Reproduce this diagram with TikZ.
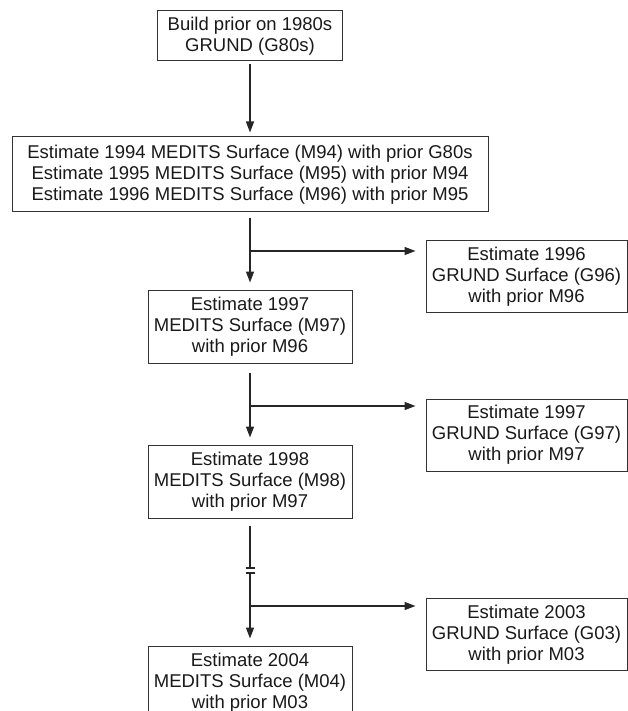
\documentclass[tikz,border=0pt]{standalone}
\usepackage{fontspec}
\setmainfont{Liberation Sans}
\usetikzlibrary{arrows.meta}
\begin{document}
\begin{tikzpicture}[x=1pt,y=-1pt,
  box/.style={draw=black!80, line width=1pt, align=center, inner sep=0pt,
    font=\fontsize{18.5}{21}\selectfont, text=black!90},
  mbox/.style={box, minimum width=204, minimum height=73},
  gbox/.style={box, minimum width=201, minimum height=72},
  conn/.style={line width=1.4pt, draw=black!85},
  arr/.style={conn, -{Triangle[length=11pt,width=8pt]}}]
\useasboundingbox (0,0) rectangle (628,711);
\clip (0,0) rectangle (628,711);
\node[box, minimum width=185, minimum height=50] (A) at (250,36) {Build prior on 1980s\\GRUND (G80s)};
\node[box, minimum width=476, minimum height=75] (B) at (250,174.5)
  {Estimate 1994 MEDITS Surface (M94) with prior G80s\\
   Estimate 1995 MEDITS Surface (M95) with prior M94\\
   Estimate 1996 MEDITS Surface (M96) with prior M95};
\node[mbox] (M97) at (250,326.5) {Estimate 1997\\MEDITS Surface (M97)\\with prior M96};
\node[mbox] (M98) at (250,481.5) {Estimate 1998\\MEDITS Surface (M98)\\with prior M97};
\node[mbox] (M04) at (250,682.5) {Estimate 2004\\MEDITS Surface (M04)\\with prior M03};
\node[gbox] (G96) at (526.5,276.5) {Estimate 1996\\GRUND Surface (G96)\\with prior M96};
\node[gbox] (G97) at (526.5,435) {Estimate 1997\\GRUND Surface (G97)\\with prior M97};
\node[gbox] (G03) at (526.5,634.5) {Estimate 2003\\GRUND Surface (G03)\\with prior M03};

\coordinate (b1) at (250,251);
\coordinate (b2) at (250,406);
\coordinate (b3) at (250,606);
\coordinate (k1) at (250,568);
\coordinate (k2) at (250,573);

\draw[arr, shorten <=3pt, shorten >=4pt] (A.south) -- (B.north);
\draw[arr, shorten <=6pt, shorten >=7pt] (B.south -| M97.north) -- (M97.north);
\draw[arr, shorten >=10pt] (b1) -- (b1 -| G96.west);
\draw[arr, shorten <=9pt, shorten >=7pt] (M97.south) -- (M98.north);
\draw[arr, shorten >=10pt] (b2) -- (b2 -| G97.west);
\draw[conn, shorten <=7pt] (M98.south) -- (k1);
\draw[conn] ([xshift=-4.5pt]k1) -- ([xshift=4.5pt]k1);
\draw[conn] ([xshift=-4.5pt]k2) -- ([xshift=4.5pt]k2);
\draw[arr, shorten >=7pt] (k2) -- (M04.north);
\draw[arr, shorten >=10pt] (b3) -- (b3 -| G03.west);
\end{tikzpicture}
\end{document}
